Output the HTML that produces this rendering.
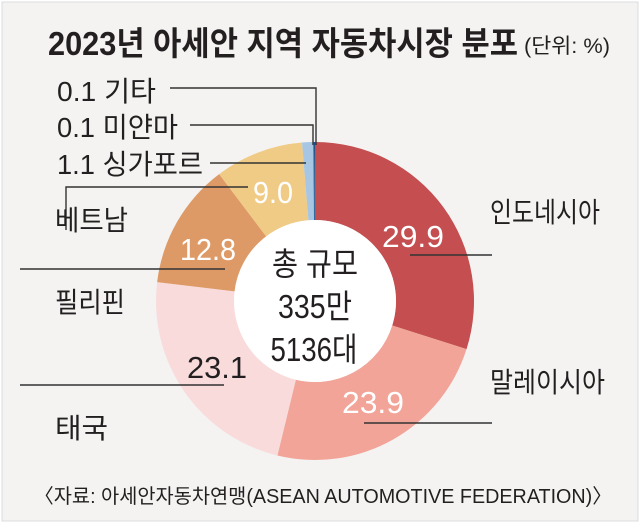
<!DOCTYPE html>
<html><head><meta charset="utf-8"><style>
body{margin:0;background:#fff}
svg text{font-family:"Liberation Sans","Noto Sans CJK KR",sans-serif}
</style></head><body>
<svg width="640" height="523" viewBox="0 0 640 523">
<rect x="2" y="2" width="636" height="519" fill="#f4f3f2" stroke="#ddd"/>
<text x="48" y="55" font-size="33" font-weight="bold" fill="#231f20" textLength="470" lengthAdjust="spacingAndGlyphs">2023년 아세안 지역 자동차시장 분포</text>
<text x="524" y="53" font-size="21" fill="#231f20" textLength="86" lengthAdjust="spacingAndGlyphs">(단위: %)</text>
<g id="pie"></g>
<g id="ann"></g>
<text x="315" y="275" font-size="32" text-anchor="middle" fill="#231f20" textLength="86" lengthAdjust="spacingAndGlyphs">총 규모</text>
<text x="315" y="318" font-size="33" text-anchor="middle" fill="#231f20" textLength="74" lengthAdjust="spacingAndGlyphs">335만</text>
<text x="314" y="361" font-size="33" text-anchor="middle" fill="#231f20" textLength="87" lengthAdjust="spacingAndGlyphs">5136대</text>
<text x="34" y="503" font-size="20" fill="#231f20" textLength="578" lengthAdjust="spacingAndGlyphs">〈자료: 아세안자동차연맹(ASEAN AUTOMOTIVE FEDERATION)〉</text>
</svg>
<script>
const categories=["인도네시아","말레이시아","태국","필리핀","베트남","싱가포르","미얀마","기타"];
const values=[29.9,23.9,23.1,12.8,9.0,1.1,0.1,0.1];
const valueLabels=["29.9","23.9","23.1","12.8","9.0","1.1","0.1","0.1"];
const colors=["#c44e50","#f2a498","#f9dbdb","#de9a66","#f0cb86","#a6c6e4","#3b7fbf","#1d4f86"];
const cx=315,cy=301,R=159,r=81;
const NS="http://www.w3.org/2000/svg";
const pie=document.getElementById('pie'),ann=document.getElementById('ann');
const total=values.reduce((a,b)=>a+b,0);
function pt(a,rad){return [cx+rad*Math.sin(a),cy-rad*Math.cos(a)];}
function mk(tag,attrs,parent){const e=document.createElementNS(NS,tag);for(const k in attrs)e.setAttribute(k,attrs[k]);parent.appendChild(e);return e;}
let acc=0;const mids=[];
values.forEach((v,i)=>{
 const a0=acc/total*2*Math.PI;acc+=v;const a1=acc/total*2*Math.PI;
 const [x0,y0]=pt(a0,R),[x1,y1]=pt(a1,R),[x2,y2]=pt(a1,r),[x3,y3]=pt(a0,r);
 const big=(a1-a0)>Math.PI?1:0;
 const p=mk('path',{d:`M${x0},${y0}A${R},${R} 0 ${big} 1 ${x1},${y1}L${x2},${y2}A${r},${r} 0 ${big} 0 ${x3},${y3}Z`,fill:colors[i]},pie);
 
 
 mids.push((a0+a1)/2);
});
const c=mk('circle',{cx:cx,cy:cy,r:r,fill:'#fff'},pie);


function line(pts){const l=mk('polyline',{points:pts.map(p=>p.join(',')).join(' '),fill:'none',stroke:'#333','stroke-width':1.4},ann);

}
function txt(x,y,s,opt){const t=mk('text',Object.assign({x:x,y:y,'font-size':28,fill:'#231f20'},opt||{}),ann);t.textContent=s;

return t;}
// value labels inside slices
const inColor=['#fff','#fff','#231f20','#fff','#fff'];
const vPos=[[413,247],[373,413],[217,378],[208,260],[273,203]];
const vW=[62,62,60,56,40];
for(let i=0;i<5;i++){
 txt(vPos[i][0],vPos[i][1],valueLabels[i],{fill:inColor[i],'text-anchor':'middle','font-size':31,textLength:vW[i],lengthAdjust:'spacingAndGlyphs'});
}
// leaders & category labels
line([[410,255],[492,255]]);txt(490,222,categories[0],{textLength:110,lengthAdjust:'spacingAndGlyphs'});
line([[364,423],[492,423]]);txt(490,392,categories[1],{textLength:115,lengthAdjust:'spacingAndGlyphs'});
line([[20,385],[224,385]]);txt(55,438,categories[2],{textLength:53,lengthAdjust:'spacingAndGlyphs'});
line([[20,269],[225,269]]);txt(55,312,categories[3],{textLength:70,lengthAdjust:'spacingAndGlyphs'});
line([[66,230],[66,187],[248,187]]);txt(55,230,categories[4],{textLength:73,lengthAdjust:'spacingAndGlyphs'});
line([[210,163],[306,163]]);txt(57,174,valueLabels[5]+'  '+categories[5],{textLength:146,lengthAdjust:'spacingAndGlyphs'});
line([[190,125],[313,125],[313,145]]);txt(57,137,valueLabels[6]+'  '+categories[6],{textLength:121,lengthAdjust:'spacingAndGlyphs'});
line([[170,88],[316,88],[316,145]]);txt(57,101,valueLabels[7]+'  '+categories[7],{textLength:99,lengthAdjust:'spacingAndGlyphs'});
</script>
</body></html>
